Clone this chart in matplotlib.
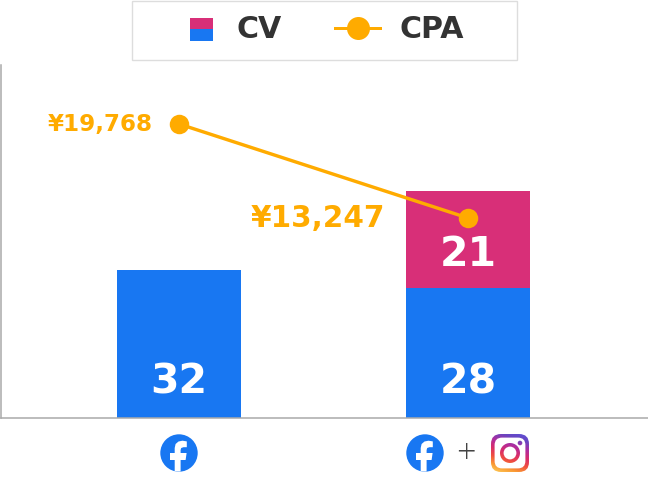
import numpy as np
import matplotlib
matplotlib.use("Agg")
import matplotlib.pyplot as plt
from matplotlib.lines import Line2D
from matplotlib.patches import Rectangle, Circle, FancyBboxPatch, Polygon
from matplotlib.legend_handler import HandlerBase
from matplotlib.colors import LinearSegmentedColormap

categories = ["Facebook", "Facebook + Instagram"]
cv_facebook = [32, 28]
cv_instagram = [0, 21]
cpa = [19768, 13247]
cpa_labels = ["¥19,768", "¥13,247"]

BLUE = "#1877F2"
PINK = "#D82F78"
ORANGE = "#FFAB00"
DARK = "#333333"
W, H = 648, 482
plt.rcParams["font.family"] = ["DejaVu Sans"]
PX = 0.72

fig = plt.figure(figsize=(W / 100, H / 100), dpi=100, facecolor="white")
ax = fig.add_axes([1 / W, (H - 418) / H, 647 / W, 353 / H])
x = np.arange(len(categories))
ax.bar(x, cv_facebook, width=0.429, color=BLUE)
ax.bar(x, cv_instagram, bottom=cv_facebook, width=0.429, color=PINK)
ax.set_xlim(-0.616, 1.623)
ax.set_ylim(0, 76.2)
ax.set_xticks([])
ax.set_yticks([])
for s in ("top", "right"):
    ax.spines[s].set_visible(False)
for s in ("left", "bottom"):
    ax.spines[s].set_color("#AAAAAA")
    ax.spines[s].set_linewidth(1.1)

for i in x:
    ax.annotate(str(cv_facebook[i]), (i, 0), xytext=(0, 35 * PX), textcoords="offset points",
                ha="center", va="center", color="white", fontsize=41 * PX, fontweight="bold")
    if cv_instagram[i]:
        ax.annotate(str(cv_instagram[i]), (i, cv_facebook[i]), xytext=(0, 33 * PX),
                    textcoords="offset points", ha="center", va="center", color="white",
                    fontsize=41 * PX, fontweight="bold")

ax2 = ax.twinx()
ax2.set_ylim(-628, 23860)
ax2.set_yticks([])
for s in ax2.spines.values():
    s.set_visible(False)
ax2.plot(x, cpa, color=ORANGE, lw=3.4 * PX, marker="o", ms=19.5 * PX, mew=0, clip_on=False)
ax2.annotate(cpa_labels[0], (x[0], cpa[0]), xytext=(-26 * PX, -1 * PX), textcoords="offset points",
             ha="right", va="center", color=ORANGE, fontsize=23 * PX, fontweight="bold")
ax2.annotate(cpa_labels[1], (x[1], cpa[1]), xytext=(-83 * PX, -1 * PX), textcoords="offset points",
             ha="right", va="center", color=ORANGE, fontsize=29.5 * PX, fontweight="bold")


class SplitSquare(HandlerBase):
    def create_artists(self, legend, orig, xd, yd, w, h, fontsize, trans):
        s = 23 * PX
        cx = w / 2 - xd + 6.5 * PX
        cy = h / 2 - yd - 1 * PX
        top = Rectangle((cx - s / 2, cy), s, s / 2, fc=PINK, ec="none", transform=trans)
        bot = Rectangle((cx - s / 2, cy - s / 2), s, s / 2, fc=BLUE, ec="none", transform=trans)
        return [top, bot]


LEG_FS = 30 * PX
cv_handle = Rectangle((0, 0), 1, 1, fc=PINK)
cpa_handle = Line2D([], [], color=ORANGE, lw=3 * PX, marker="o", ms=23 * PX, mew=0)
leg = fig.legend([cv_handle, cpa_handle], ["CV", "CPA"], ncol=2, loc="center",
                 bbox_to_anchor=(318 / W, 1 - 30 / H), handler_map={cv_handle: SplitSquare()},
                 frameon=False, prop={"size": LEG_FS, "weight": "bold"}, labelcolor=DARK,
                 handlelength=45 * PX / LEG_FS, handletextpad=19 * PX / LEG_FS,
                 columnspacing=54 * PX / LEG_FS, borderpad=0, borderaxespad=0)

ov = fig.add_axes([0, 0, 1, 1], zorder=5)
ov.patch.set_alpha(0)
ov.axis("off")
ov.add_patch(Rectangle((131.5, 0.5), 385, 59, fc="none", ec="#DDDDDD", lw=1))


def fb(cx, cy, r=18.7):
    c = Circle((cx, cy), r, fc=BLUE, ec="none")
    ov.add_patch(c)
    pts = [(-4.3, r), (-4.3, 7.0), (-9.0, 7.0), (-9.0, 0.0), (-4.3, 0.0), (-4.3, -5.0),
           (-3.4, -9.0), (-0.5, -11.5), (3.5, -12.3), (7.8, -11.6), (7.8, -5.8), (4.5, -5.8),
           (2.2, -5.0), (1.6, -3.0), (1.6, 0.0), (7.6, 0.0), (6.6, 7.0), (1.6, 7.0), (1.6, r)]
    p = Polygon([(cx + a, cy + b) for a, b in pts], closed=True, fc="white", ec="none")
    ov.add_patch(p)
    p.set_clip_path(c)


fb(179, 453)
fb(425, 453)
ov.text(466, 454, "+", ha="center", va="center", fontsize=34 * PX, color="#444444",
        fontweight="light", family="Open Sans")

cmap = LinearSegmentedColormap.from_list(
    "ig", ["#FDD05A", "#FA9A34", "#F0503F", "#D92C6B", "#B02C9E", "#6A45C0", "#5B51D8"])
gx, gy = np.meshgrid(np.linspace(0, 1, 80), np.linspace(0, 1, 80))
grad = 0.25 * gx + 0.75 * gy
EXT = (491, 529, 472, 434)


def grad_clip(patch, z):
    ov.add_patch(patch)
    im = ov.imshow(grad, extent=EXT, origin="lower", cmap=cmap, aspect="auto", zorder=z)
    im.set_clip_path(patch)


grad_clip(FancyBboxPatch((500, 443), 20, 20, boxstyle="round,pad=9,rounding_size=10",
                         fc="none", ec="none"), 1)
ov.add_patch(FancyBboxPatch((501.6, 444.6), 16.8, 16.8,
                            boxstyle="round,pad=7,rounding_size=7.5", fc="white", ec="none", zorder=2))
grad_clip(Circle((510, 453), 10, fc="none", ec="none"), 3)
ov.add_patch(Circle((510, 453), 6.4, fc="white", ec="none", zorder=4))
grad_clip(Circle((520, 443), 2.3, fc="none", ec="none"), 5)
ov.set_xlim(0, W)
ov.set_ylim(H, 0)

fig.savefig("out.png", dpi=100, facecolor="white")
